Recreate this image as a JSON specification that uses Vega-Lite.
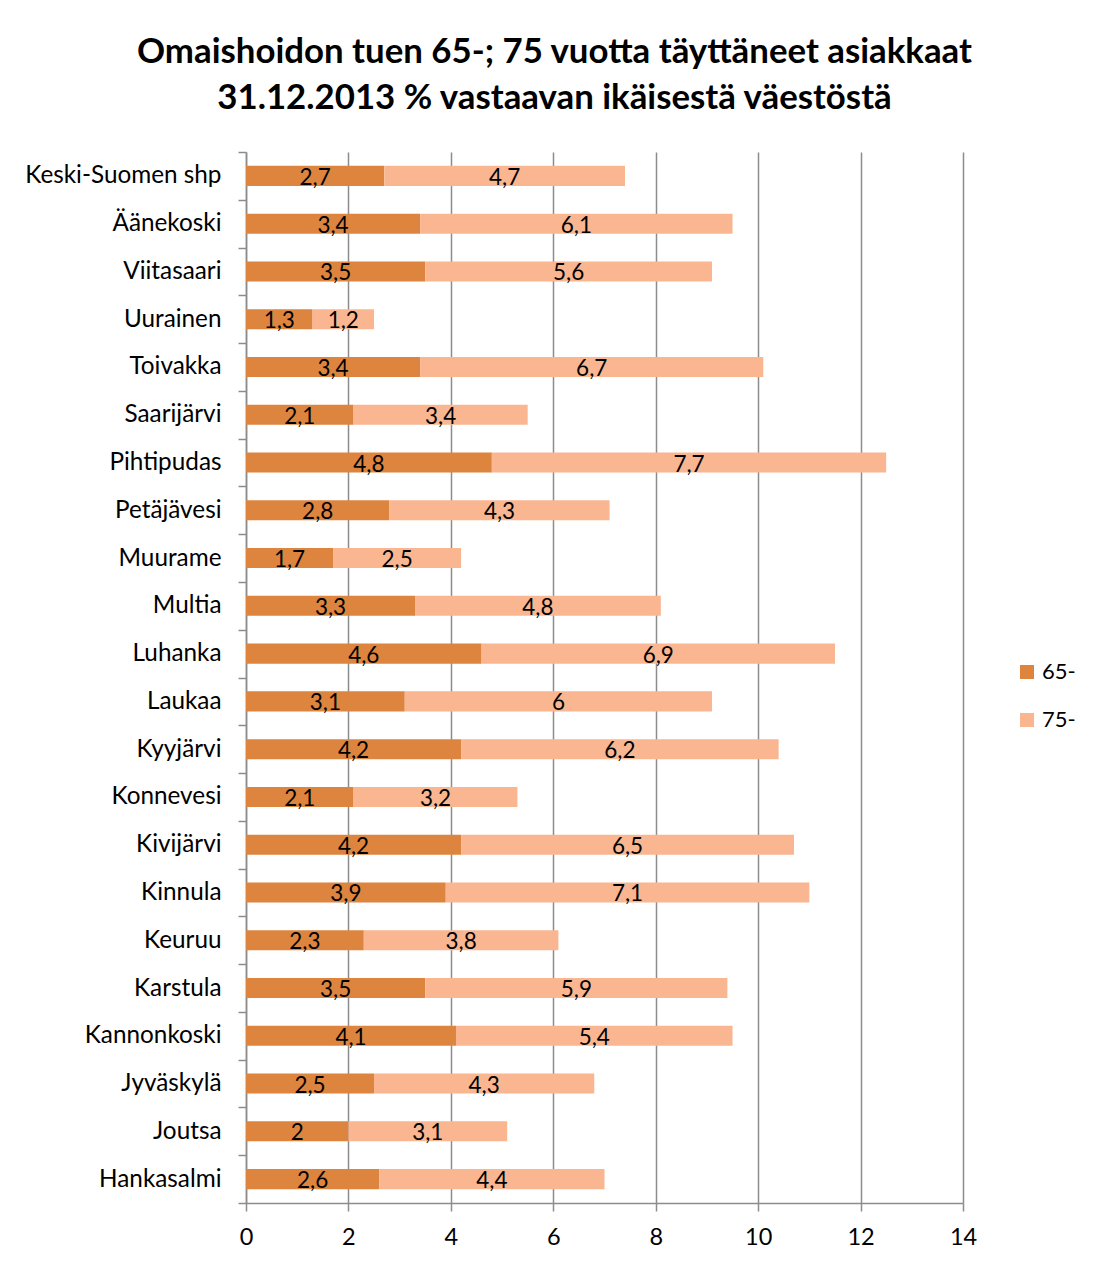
{
  "$schema": "https://vega.github.io/schema/vega-lite/v6.json",
  "autosize": "none",
  "width": 717,
  "height": 1051,
  "padding": {"left": 246, "top": 152, "right": 130, "bottom": 60},
  "background": "white",
  "config": {
    "font": "Lato",
    "view": {"stroke": null},
    "locale": {"number": {"decimal": ",", "thousands": " ", "grouping": [3], "currency": ["", " €"]}}
  },
  "title": {
    "text": ["Omaishoidon tuen 65-; 75 vuotta täyttäneet asiakkaat", "31.12.2013 % vastaavan ikäisestä väestöstä"],
    "fontSize": 34.8,
    "fontWeight": "bold",
    "font": "Lato",
    "color": "black",
    "anchor": "middle",
    "dx": -50,
    "offset": 23,
    "lineHeight": 46
  },
  "data": {
    "values": [
      {"kunta": "Keski-Suomen shp", "ika": "65-", "arvo": 2.7},
      {"kunta": "Keski-Suomen shp", "ika": "75-", "arvo": 4.7},
      {"kunta": "Äänekoski", "ika": "65-", "arvo": 3.4},
      {"kunta": "Äänekoski", "ika": "75-", "arvo": 6.1},
      {"kunta": "Viitasaari", "ika": "65-", "arvo": 3.5},
      {"kunta": "Viitasaari", "ika": "75-", "arvo": 5.6},
      {"kunta": "Uurainen", "ika": "65-", "arvo": 1.3},
      {"kunta": "Uurainen", "ika": "75-", "arvo": 1.2},
      {"kunta": "Toivakka", "ika": "65-", "arvo": 3.4},
      {"kunta": "Toivakka", "ika": "75-", "arvo": 6.7},
      {"kunta": "Saarijärvi", "ika": "65-", "arvo": 2.1},
      {"kunta": "Saarijärvi", "ika": "75-", "arvo": 3.4},
      {"kunta": "Pihtipudas", "ika": "65-", "arvo": 4.8},
      {"kunta": "Pihtipudas", "ika": "75-", "arvo": 7.7},
      {"kunta": "Petäjävesi", "ika": "65-", "arvo": 2.8},
      {"kunta": "Petäjävesi", "ika": "75-", "arvo": 4.3},
      {"kunta": "Muurame", "ika": "65-", "arvo": 1.7},
      {"kunta": "Muurame", "ika": "75-", "arvo": 2.5},
      {"kunta": "Multia", "ika": "65-", "arvo": 3.3},
      {"kunta": "Multia", "ika": "75-", "arvo": 4.8},
      {"kunta": "Luhanka", "ika": "65-", "arvo": 4.6},
      {"kunta": "Luhanka", "ika": "75-", "arvo": 6.9},
      {"kunta": "Laukaa", "ika": "65-", "arvo": 3.1},
      {"kunta": "Laukaa", "ika": "75-", "arvo": 6},
      {"kunta": "Kyyjärvi", "ika": "65-", "arvo": 4.2},
      {"kunta": "Kyyjärvi", "ika": "75-", "arvo": 6.2},
      {"kunta": "Konnevesi", "ika": "65-", "arvo": 2.1},
      {"kunta": "Konnevesi", "ika": "75-", "arvo": 3.2},
      {"kunta": "Kivijärvi", "ika": "65-", "arvo": 4.2},
      {"kunta": "Kivijärvi", "ika": "75-", "arvo": 6.5},
      {"kunta": "Kinnula", "ika": "65-", "arvo": 3.9},
      {"kunta": "Kinnula", "ika": "75-", "arvo": 7.1},
      {"kunta": "Keuruu", "ika": "65-", "arvo": 2.3},
      {"kunta": "Keuruu", "ika": "75-", "arvo": 3.8},
      {"kunta": "Karstula", "ika": "65-", "arvo": 3.5},
      {"kunta": "Karstula", "ika": "75-", "arvo": 5.9},
      {"kunta": "Kannonkoski", "ika": "65-", "arvo": 4.1},
      {"kunta": "Kannonkoski", "ika": "75-", "arvo": 5.4},
      {"kunta": "Jyväskylä", "ika": "65-", "arvo": 2.5},
      {"kunta": "Jyväskylä", "ika": "75-", "arvo": 4.3},
      {"kunta": "Joutsa", "ika": "65-", "arvo": 2},
      {"kunta": "Joutsa", "ika": "75-", "arvo": 3.1},
      {"kunta": "Hankasalmi", "ika": "65-", "arvo": 2.6},
      {"kunta": "Hankasalmi", "ika": "75-", "arvo": 4.4}
    ]
  },
  "encoding": {
    "y": {
      "field": "kunta",
      "type": "nominal",
      "sort": null,
      "title": null,
      "scale": {"paddingInner": 0, "paddingOuter": 0},
      "axis": {
        "domainColor": "#8c8c8c",
        "domainWidth": 1.5,
        "tickColor": "#8c8c8c",
        "tickWidth": 1.5,
        "tickSize": 8,
        "tickBand": "extent",
        "labelFontSize": 24.3,
        "labelFont": "Lato",
        "labelColor": "black",
        "labelPadding": 17,
        "labelLimit": 300
      }
    },
    "x": {
      "field": "arvo",
      "type": "quantitative",
      "stack": "zero",
      "title": null,
      "scale": {"domain": [0, 14], "nice": false},
      "axis": {
        "values": [0, 2, 4, 6, 8, 10, 12, 14],
        "domainColor": "#8c8c8c",
        "domainWidth": 1.5,
        "tickColor": "#8c8c8c",
        "tickWidth": 1.5,
        "tickSize": 8,
        "gridColor": "#8c8c8c",
        "gridWidth": 1.5,
        "labelFontSize": 23.5,
        "labelFont": "Lato",
        "labelColor": "black",
        "labelPadding": 14,
        "labelFlush": false
      }
    }
  },
  "layer": [
    {
      "mark": {"type": "bar", "height": {"band": 0.42}},
      "encoding": {
        "color": {
          "field": "ika",
          "type": "nominal",
          "title": null,
          "scale": {"domain": ["65-", "75-"], "range": ["#DD843F", "#F9B690"]},
          "legend": {
            "orient": "none",
            "legendX": 770,
            "legendY": 509,
            "symbolType": "square",
            "symbolSize": 196,
            "symbolStrokeWidth": 0,
            "labelFontSize": 22,
            "labelFont": "Lato",
            "labelColor": "black",
            "labelOffset": 4,
            "rowPadding": 26
          }
        }
      }
    },
    {
      "mark": {"type": "text", "fontSize": 22.5, "font": "Lato", "color": "black", "baseline": "middle", "dy": 2},
      "encoding": {
        "x": {"field": "arvo", "type": "quantitative", "stack": "zero", "bandPosition": 0.5},
        "detail": {"field": "ika", "type": "nominal"},
        "order": {"field": "ika", "type": "ordinal"},
        "text": {"field": "arvo", "type": "quantitative"}
      }
    }
  ]
}
